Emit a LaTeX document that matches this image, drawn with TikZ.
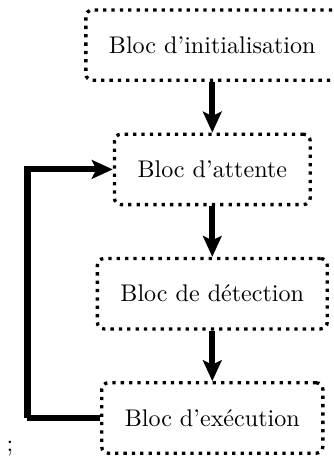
\documentclass[tikz,border=0pt]{standalone}
\usetikzlibrary{positioning,arrows.meta}

\tikzset{
    bloc/.style={draw, line width=1.5pt, dash pattern=on 1.5pt off 2.3pt,
        rounded corners=3pt, inner xsep=10.5pt, minimum height=32pt},
    flow/.style={line width=2.8pt, -{Stealth[length=9.5pt,width=8.5pt,inset=2pt]}},
    retour/.style={line width=2.8pt}
}

\begin{document}
\begin{tikzpicture}[node distance=23pt, font=\fontsize{10.95}{13.6}\selectfont]
    \useasboundingbox (-96.5pt,20.5pt) rectangle (55.3pt,-189.5pt);

    \node[bloc] (init) at (0,0) {Bloc d'initialisation};
    \node[bloc, below=of init] (attente) {Bloc d'attente};
    \node[bloc, below=of attente] (detect) {Bloc de détection};
    \node[bloc, below=of detect] (exec) {Bloc d'exécution};

    \draw[flow] (init) -- (attente);
    \draw[flow] (attente) -- (detect);
    \draw[flow] (detect) -- (exec);

    % boucle de retour
    \coordinate[left=33pt of exec.west] (coin);
    \draw[retour] (exec.west) -- (coin);
    \draw[flow] (coin) |- (attente.west);

    \node (pv) at (-92pt,-183.2pt) {;};
\end{tikzpicture}
\end{document}
